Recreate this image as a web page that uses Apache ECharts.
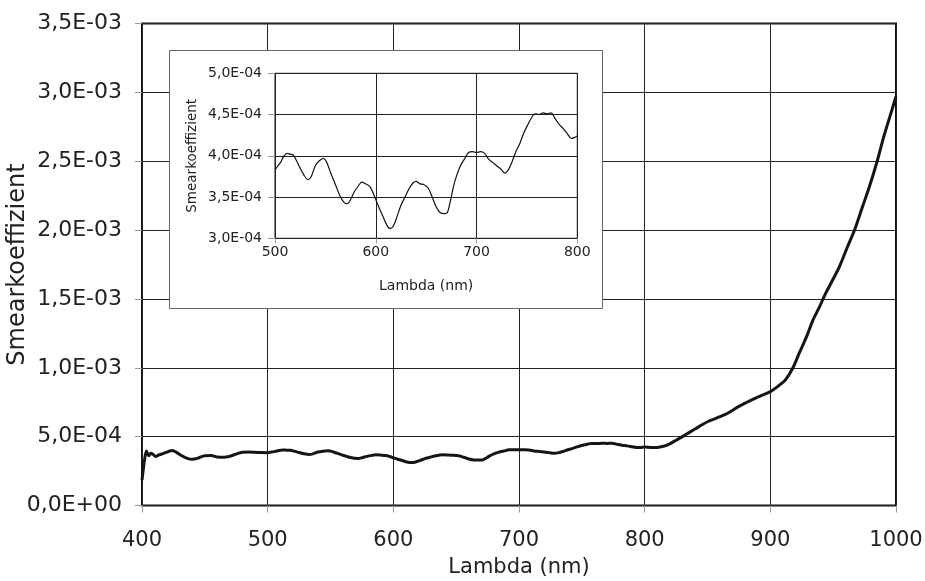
<!DOCTYPE html>
<html>
<head>
<meta charset="utf-8">
<script src="https://cdn.jsdelivr.net/npm/echarts@6/dist/echarts.min.js"></script>
<style>
html,body{margin:0;padding:0;background:#fff;}
#chart{width:925px;height:581px;}
</style>
</head>
<body>
<div id="chart"></div>
<script>
// Wavelength (nm)
const lambdaNm = [
  400, 401, 402, 403.5, 404.5, 405.5, 407, 409, 411, 413, 416, 420, 424, 428, 432, 436, 440, 445, 450, 455,
  460, 465, 470, 475, 480, 485, 490, 495,
  500, 503, 506, 509, 512, 515, 518, 521, 525, 529, 533, 536, 540, 544, 548, 551, 555, 560, 565, 569,
  572, 575, 579, 583, 586, 590, 594, 597, 600, 603, 607, 611, 614, 617, 621, 625, 629, 633, 637, 640,
  644, 648, 652, 656, 660, 664, 668, 671, 674, 677, 680, 684, 688, 692, 696, 700, 704, 708, 712, 716,
  720, 724, 728, 731, 735, 739, 743, 747, 751, 755, 758, 762, 766, 770, 774, 778, 782, 786, 790, 794,
  797, 800,
  805, 810, 815, 820, 825, 830, 840, 850, 860, 866, 875, 884, 892, 900, 906, 912, 918, 923, 929, 934,
  939, 944, 950, 955, 961, 967, 973, 979, 985, 990, 995, 1000
];
// Smear coefficient
const smear = [
  1.85e-4, 2.6e-4, 3.3e-4, 3.95e-4, 3.75e-4, 3.62e-4, 3.8e-4, 3.7e-4, 3.55e-4, 3.65e-4, 3.75e-4, 3.88e-4, 4.0e-4, 3.82e-4, 3.6e-4, 3.42e-4, 3.35e-4, 3.45e-4, 3.62e-4, 3.63e-4,
  3.52e-4, 3.5e-4, 3.58e-4, 3.74e-4, 3.86e-4, 3.88e-4, 3.86e-4, 3.84e-4,
  3.83e-4, 3.88e-4, 3.93e-4, 4.0e-4, 4.03e-4, 4.02e-4, 4.01e-4, 3.95e-4, 3.85e-4, 3.76e-4, 3.71e-4, 3.75e-4, 3.88e-4, 3.94e-4, 3.97e-4, 3.93e-4, 3.8e-4, 3.65e-4, 3.5e-4, 3.43e-4,
  3.42e-4, 3.47e-4, 3.57e-4, 3.64e-4, 3.68e-4, 3.66e-4, 3.63e-4, 3.56e-4, 3.47e-4, 3.38e-4, 3.27e-4, 3.16e-4, 3.12e-4, 3.14e-4, 3.26e-4, 3.4e-4, 3.5e-4, 3.6e-4, 3.67e-4, 3.69e-4,
  3.66e-4, 3.65e-4, 3.61e-4, 3.5e-4, 3.38e-4, 3.31e-4, 3.3e-4, 3.31e-4, 3.45e-4, 3.62e-4, 3.75e-4, 3.88e-4, 3.96e-4, 4.04e-4, 4.05e-4, 4.04e-4, 4.05e-4, 4.03e-4, 3.96e-4, 3.92e-4,
  3.88e-4, 3.84e-4, 3.79e-4, 3.82e-4, 3.92e-4, 4.05e-4, 4.15e-4, 4.28e-4, 4.38e-4, 4.47e-4, 4.51e-4, 4.5e-4, 4.52e-4, 4.51e-4, 4.52e-4, 4.45e-4, 4.38e-4, 4.33e-4, 4.27e-4, 4.21e-4,
  4.22e-4, 4.24e-4,
  4.22e-4, 4.22e-4, 4.3e-4, 4.48e-4, 4.74e-4, 5.0e-4, 5.55e-4, 6.08e-4, 6.45e-4, 6.7e-4, 7.2e-4, 7.62e-4, 7.95e-4, 8.27e-4, 8.65e-4, 9.12e-4, 10.0e-4, 11.06e-4, 12.3e-4, 13.48e-4,
  14.4e-4, 15.4e-4, 16.45e-4, 17.35e-4, 18.7e-4, 20.0e-4, 21.6e-4, 23.2e-4, 25.0e-4, 26.7e-4, 28.2e-4, 29.7e-4
];

const mainX = {min: 400, max: 1000, interval: 100};
const mainY = {min: 0, max: 3.5e-3, interval: 5e-4};
const insetX = {min: 500, max: 800, interval: 100};
const insetY = {min: 3.0e-4, max: 5.0e-4, interval: 5e-5};

const xTitle = 'Lambda (nm)';
const yTitle = 'Smearkoeffizient';

function sci(v) {
  if (Math.abs(v) < 1e-12) return '0,0E+00';
  let e = Math.floor(Math.log10(Math.abs(v)) + 1e-9);
  let m = v / Math.pow(10, e);
  let ms = m.toFixed(1);
  if (ms === '10.0') { e += 1; ms = (v / Math.pow(10, e)).toFixed(1); }
  return ms.replace('.', ',') + 'E' + (e < 0 ? '-' : '+') + String(Math.abs(e)).padStart(2, '0');
}
function plain(v) { return String(Math.round(v)); }

const mainData = lambdaNm.map((x, i) => [x, smear[i]]);
const insetData = mainData.filter(p => p[0] >= insetX.min && p[0] <= insetX.max);

const FONT = 'DejaVu Sans';
const chart = echarts.init(document.getElementById('chart'), null, {renderer: 'canvas'});
chart.setOption({
  animation: false,
  backgroundColor: '#fff',
  grid: [
    {left: 142, top: 23.5, right: 29, bottom: 75.5, show: true, borderColor: '#111', borderWidth: 2, backgroundColor: 'transparent', z: 0, containLabel: false, outerBoundsMode: 'none'},
    {left: 275, top: 73.3, right: 347.7, bottom: 342.7, show: true, borderColor: '#111', borderWidth: 1, backgroundColor: '#fff', z: 6, containLabel: false, outerBoundsMode: 'none'}
  ],
  graphic: [{
    type: 'rect', z: 5,
    shape: {x: 169.5, y: 50.5, width: 433, height: 258},
    style: {fill: '#fff', stroke: '#666', lineWidth: 1}
  }],
  xAxis: [
    {type: 'value', gridIndex: 0, min: mainX.min, max: mainX.max, interval: mainX.interval,
     name: xTitle, nameLocation: 'middle', nameGap: 52, nameMoveOverlap: false,
     nameTextStyle: {fontFamily: FONT, fontSize: 21, color: '#222'},
     axisLine: {show: false},
     axisTick: {show: true, inside: false, length: 7, lineStyle: {color: '#999', width: 1}},
     axisLabel: {fontFamily: FONT, fontSize: 21, color: '#222', margin: 25, formatter: plain},
     splitLine: {show: true, lineStyle: {color: '#222', width: 1}}},
    {type: 'value', gridIndex: 1, min: insetX.min, max: insetX.max, interval: insetX.interval, z: 6,
     name: xTitle, nameLocation: 'middle', nameGap: 41, nameMoveOverlap: false,
     nameTextStyle: {fontFamily: FONT, fontSize: 14, color: '#222'},
     axisLine: {show: false},
     axisTick: {show: true, inside: false, length: 5, lineStyle: {color: '#999', width: 1}},
     axisLabel: {fontFamily: FONT, fontSize: 14, color: '#222', margin: 7, formatter: plain},
     splitLine: {show: true, lineStyle: {color: '#222', width: 1}}}
  ],
  yAxis: [
    {type: 'value', gridIndex: 0, min: mainY.min, max: mainY.max, interval: mainY.interval,
     name: yTitle, nameLocation: 'middle', nameGap: 112, nameMoveOverlap: false,
     nameTextStyle: {fontFamily: FONT, fontSize: 24, color: '#222'},
     axisLine: {show: false},
     axisTick: {show: true, inside: false, length: 7, lineStyle: {color: '#999', width: 1}},
     axisLabel: {fontFamily: FONT, fontSize: 22, color: '#222', margin: 20, formatter: sci},
     splitLine: {show: true, lineStyle: {color: '#222', width: 1}}},
    {type: 'value', gridIndex: 1, min: insetY.min, max: insetY.max, interval: insetY.interval, z: 6,
     name: yTitle, nameLocation: 'middle', nameGap: 76, nameMoveOverlap: false,
     nameTextStyle: {fontFamily: FONT, fontSize: 13.5, color: '#222'},
     axisLine: {show: false},
     axisTick: {show: true, inside: false, length: 7, lineStyle: {color: '#999', width: 1}},
     axisLabel: {fontFamily: FONT, fontSize: 14, color: '#222', margin: 13, formatter: sci},
     splitLine: {show: true, lineStyle: {color: '#222', width: 1}}}
  ],
  series: [
    {type: 'line', xAxisIndex: 0, yAxisIndex: 0, data: mainData, showSymbol: false, smooth: 0.3,
     lineStyle: {color: '#151515', width: 3}, z: 2},
    {type: 'line', xAxisIndex: 1, yAxisIndex: 1, data: insetData, showSymbol: false, smooth: 0.3,
     lineStyle: {color: '#111', width: 1.2}, z: 7}
  ]
});
</script>
</body>
</html>
